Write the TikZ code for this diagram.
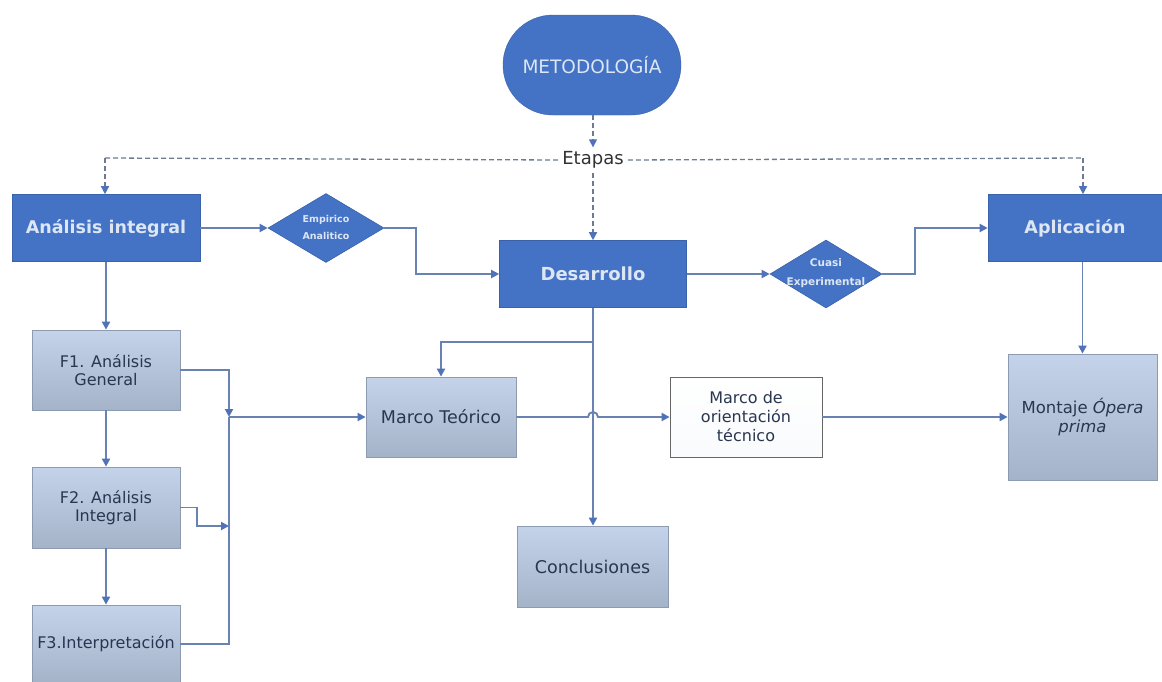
\documentclass[tikz,border=0pt]{standalone}
\usepackage{fontspec}
\setmainfont{DejaVu Sans}
\usetikzlibrary{arrows.meta,shapes.geometric,shapes.misc}
\definecolor{bluefill}{HTML}{4472C4}
\definecolor{blueedge}{HTML}{3A62AA}
\definecolor{bluetext}{HTML}{DCE6F4}
\definecolor{conn}{HTML}{6882B2}
\definecolor{tipc}{HTML}{4F72B8}
\definecolor{ltop}{HTML}{C4D3EA}
\definecolor{lbot}{HTML}{A5B3C9}
\definecolor{lborder}{HTML}{8C9AB2}
\definecolor{darktext}{HTML}{2A3650}
\definecolor{dashc}{HTML}{6E7A90}
\begin{document}
\begin{tikzpicture}[x=1pt,y=-1pt,
  bluebox/.style={rectangle, fill=bluefill, draw=blueedge, line width=0.6pt, text=bluetext,
    font=\fontsize{17.5}{20}\selectfont\bfseries, inner sep=0pt, align=center},
  lightbox/.style={rectangle, top color=ltop, bottom color=lbot, draw=lborder, line width=0.8pt,
    text=darktext, font=\fontsize{16}{18}\selectfont, inner sep=0pt, align=center},
  whitebox/.style={rectangle, top color=white, bottom color=white!90!ltop, draw=gray!80!black, line width=0.8pt,
    text=darktext, font=\fontsize{16}{19}\selectfont, inner sep=0pt, align=center},
  diam/.style={diamond, fill=bluefill, draw=blueedge, line width=0.6pt, inner sep=0pt},
  dlabel/.style={text=bluetext, font=\fontsize{9.5}{17}\selectfont\bfseries, align=center, inner sep=0pt},
  connarrow/.style={draw=conn, line width=1.9pt, -{Triangle[length=8pt,width=8pt,color=tipc,fill=tipc]}},
  plainline/.style={draw=conn, line width=1.9pt},
  dashln/.style={draw=dashc, line width=1.3pt, dash pattern=on 5pt off 3pt},
  dasharrow/.style={dashln, -{Triangle[length=8pt,width=8pt,color=tipc,fill=tipc]}}
]
\useasboundingbox (0,0) rectangle (1162,681);
\fill[white] (0,0) rectangle (1162,681);

% nodes
\node[rounded rectangle, fill=bluefill, draw=blueedge, minimum width=178pt, minimum height=100pt,
  text=bluetext, font=\fontsize{18.5}{20}\selectfont, inner sep=0pt] (met) at (592,65) {METODOLOGÍA};
\node[font=\fontsize{18}{20}\selectfont, text=black!80, inner sep=4pt] (etapas) at (593,160) {Etapas};

\node[bluebox, minimum width=188pt, minimum height=67pt] (ai) at (106,228) {Análisis integral};
\node[diam, minimum width=116pt, minimum height=69pt] (emp) at (326,228) {};
\node[dlabel] (empt) at (326,227) {Empirico\\Analitico};
\node[bluebox, minimum width=187pt, minimum height=67pt, font=\fontsize{18}{20}\selectfont\bfseries] (des) at (593,274) {Desarrollo};
\node[diam, minimum width=112pt, minimum height=68pt] (cua) at (826,274) {};
\node[dlabel, font=\fontsize{10.5}{19}\selectfont\bfseries] (cuat) at (826,273) {Cuasi\\Experimental};
\node[bluebox, minimum width=174pt, minimum height=67pt] (apl) at (1075,228) {Aplicación};

\node[lightbox, minimum width=148pt, minimum height=80pt] (f1) at (106,370) {F1. Análisis\\General};
\node[lightbox, minimum width=148pt, minimum height=81pt] (f2) at (106,507.5) {F2. Análisis\\Integral};
\node[lightbox, minimum width=148pt, minimum height=78pt] (f3) at (106,644) {F3.Interpretación};

\node[lightbox, minimum width=150pt, minimum height=80pt, font=\fontsize{17.5}{20}\selectfont] (mt) at (441,417) {Marco Teórico};
\node[whitebox, minimum width=152pt, minimum height=80pt] (mo) at (746,417) {Marco de\\orientación\\técnico};
\node[lightbox, minimum width=151pt, minimum height=81pt, font=\fontsize{17.5}{20}\selectfont] (conc) at (592.5,566.5) {Conclusiones};
\node[lightbox, minimum width=149pt, minimum height=126pt, font=\fontsize{16.5}{19}\selectfont] (mon) at (1082.5,417) {Montaje \textit{Ópera}\\\textit{prima}};

% coordinates
\coordinate (dl) at (105,158);
\coordinate (dr) at (1083,158);
\coordinate (jn) at (229,417);
\coordinate (j2) at (229,526);
\coordinate (br) at (593,342);

% dashed connectors
\draw[dasharrow] (593,115) -- (etapas.north);
\draw[dashln] (etapas.west) -- (dl);
\draw[dasharrow] (dl) -- (dl |- ai.north);
\draw[dashln] (etapas.east) -- (dr);
\draw[dasharrow] (dr) -- (dr |- apl.north);
\draw[dasharrow] (etapas.south) -- (des.north);

% solid connectors
\draw[connarrow] (ai.east) -- (emp.west);
\draw[connarrow] (emp.east) -- ++(32,0) |- (des.west);
\draw[connarrow] (des.east) -- (cua.west);
\draw[connarrow] (cua.east) -- ++(33,0) |- (apl.west);
\draw[connarrow] (mon.north |- apl.south) -- (mon.north);

\draw[connarrow] (ai.south) -- (f1.north);
\draw[connarrow] (f1.south) -- (f2.north);
\draw[connarrow] (f2.south) -- (f3.north);
\draw[connarrow] (f1.east) -| (jn);
\draw[plainline] (f3.east) -| (jn);
\draw[connarrow] (f2.east) -- ++(17,0) |- (j2);
\draw[connarrow] (jn) -- (mt.west);

\draw[connarrow] (des.south) -- (des.south |- conc.north);
\draw[connarrow] (br) -| (mt.north);
\draw[connarrow] (mt.east) -- (588,417) arc[start angle=180, end angle=0, radius=5pt] -- (mo.west);
\draw[connarrow] (mo.east) -- (mon.west);
\end{tikzpicture}
\end{document}
